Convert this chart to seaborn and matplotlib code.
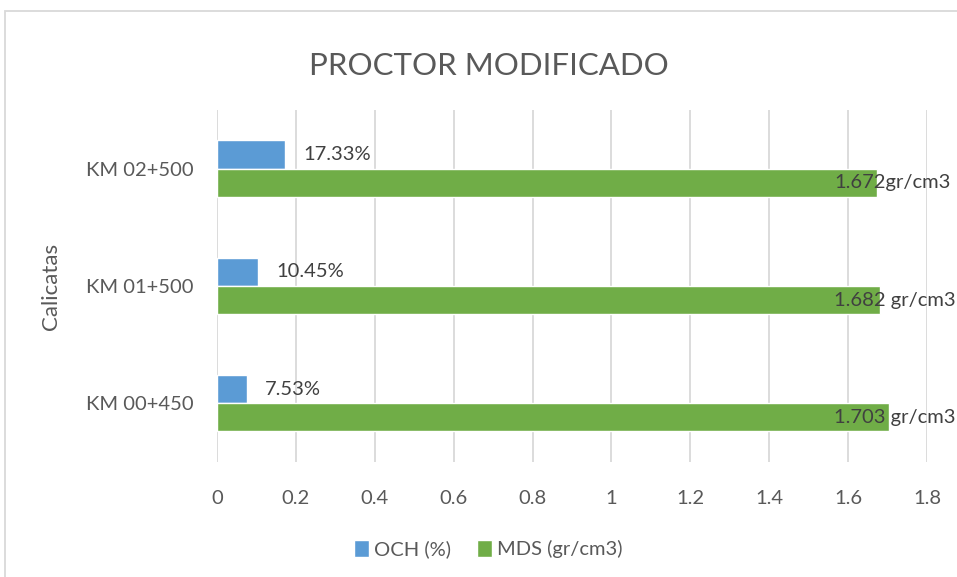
import pandas as pd
import matplotlib.pyplot as plt
import seaborn as sns
from matplotlib.patches import Rectangle

calicatas = ["KM 02+500", "KM 01+500", "KM 00+450"]
och = [0.1733, 0.1045, 0.0753]
mds = [1.672, 1.682, 1.703]
och_labels = ["17.33%", "10.45%", "7.53%"]
mds_labels = ["1.672gr/cm3", "1.682 gr/cm3", "1.703 gr/cm3"]
series = ["OCH (%)", "MDS (gr/cm3)"]
x_ticks = [0, 0.2, 0.4, 0.6, 0.8, 1, 1.2, 1.4, 1.6, 1.8]

df = pd.DataFrame({
    "calicata": calicatas * 2,
    "valor": och + mds,
    "serie": [series[0]] * 3 + [series[1]] * 3,
})

sns.set_style("white")
plt.rcParams["font.family"] = ["Lato", "DejaVu Sans"]
text_color = "#595959"
grid_color = "#d9d9d9"

fig = plt.figure(figsize=(9.57, 5.77), dpi=100)
ax = fig.add_axes([0.2267, 0.1993, 0.742, 0.6101])

sns.barplot(data=df, y="calicata", x="valor", hue="serie", order=calicatas,
            hue_order=series, palette=["#5B9BD5", "#70AD47"], orient="h",
            width=0.48, saturation=1, ax=ax, legend=True)

ax.set_xlim(0, 1.8)
ax.set_xticks(x_ticks)
ax.set_xticklabels([str(t) for t in x_ticks], fontsize=14.5, color=text_color)
ax.tick_params(axis="x", length=0, pad=20)
ax.tick_params(axis="y", length=0, labelsize=14.5, labelcolor=text_color, pad=17)
ax.xaxis.grid(True, color=grid_color, linewidth=1.3)
ax.set_axisbelow(True)
for s in ax.spines.values():
    s.set_visible(False)

ax.set_xlabel("")
ax.set_ylabel("Calicatas", fontsize=16, color=text_color, labelpad=18)

# etiquetas de datos
off = 0.12
for i in range(3):
    ax.text(och[i] + 0.045, i - off, och_labels[i], va="center", ha="left",
            fontsize=14.5, color="#404040")
    ax.text(1.565, i + off, mds_labels[i], va="center", ha="left",
            fontsize=14.5, color="#404040", clip_on=False)

fig.suptitle("PROCTOR MODIFICADO", x=0.511, y=0.91, fontsize=22.5, color=text_color)

handles, labels = ax.get_legend_handles_labels()
ax.get_legend().remove()
fig.legend(handles, labels, loc="center", bbox_to_anchor=(0.51, 0.048), ncol=2,
           frameon=False, fontsize=14.5, handlelength=0.75, handleheight=0.9,
           columnspacing=1.3, handletextpad=0.25, labelcolor=text_color)

fig.patches.append(Rectangle((5 / 957, -0.1), 1.2, 1 - 11 / 577 + 0.1,
                             transform=fig.transFigure, fill=False,
                             edgecolor=grid_color, linewidth=1.3))

fig.savefig("out.png", dpi=100)
